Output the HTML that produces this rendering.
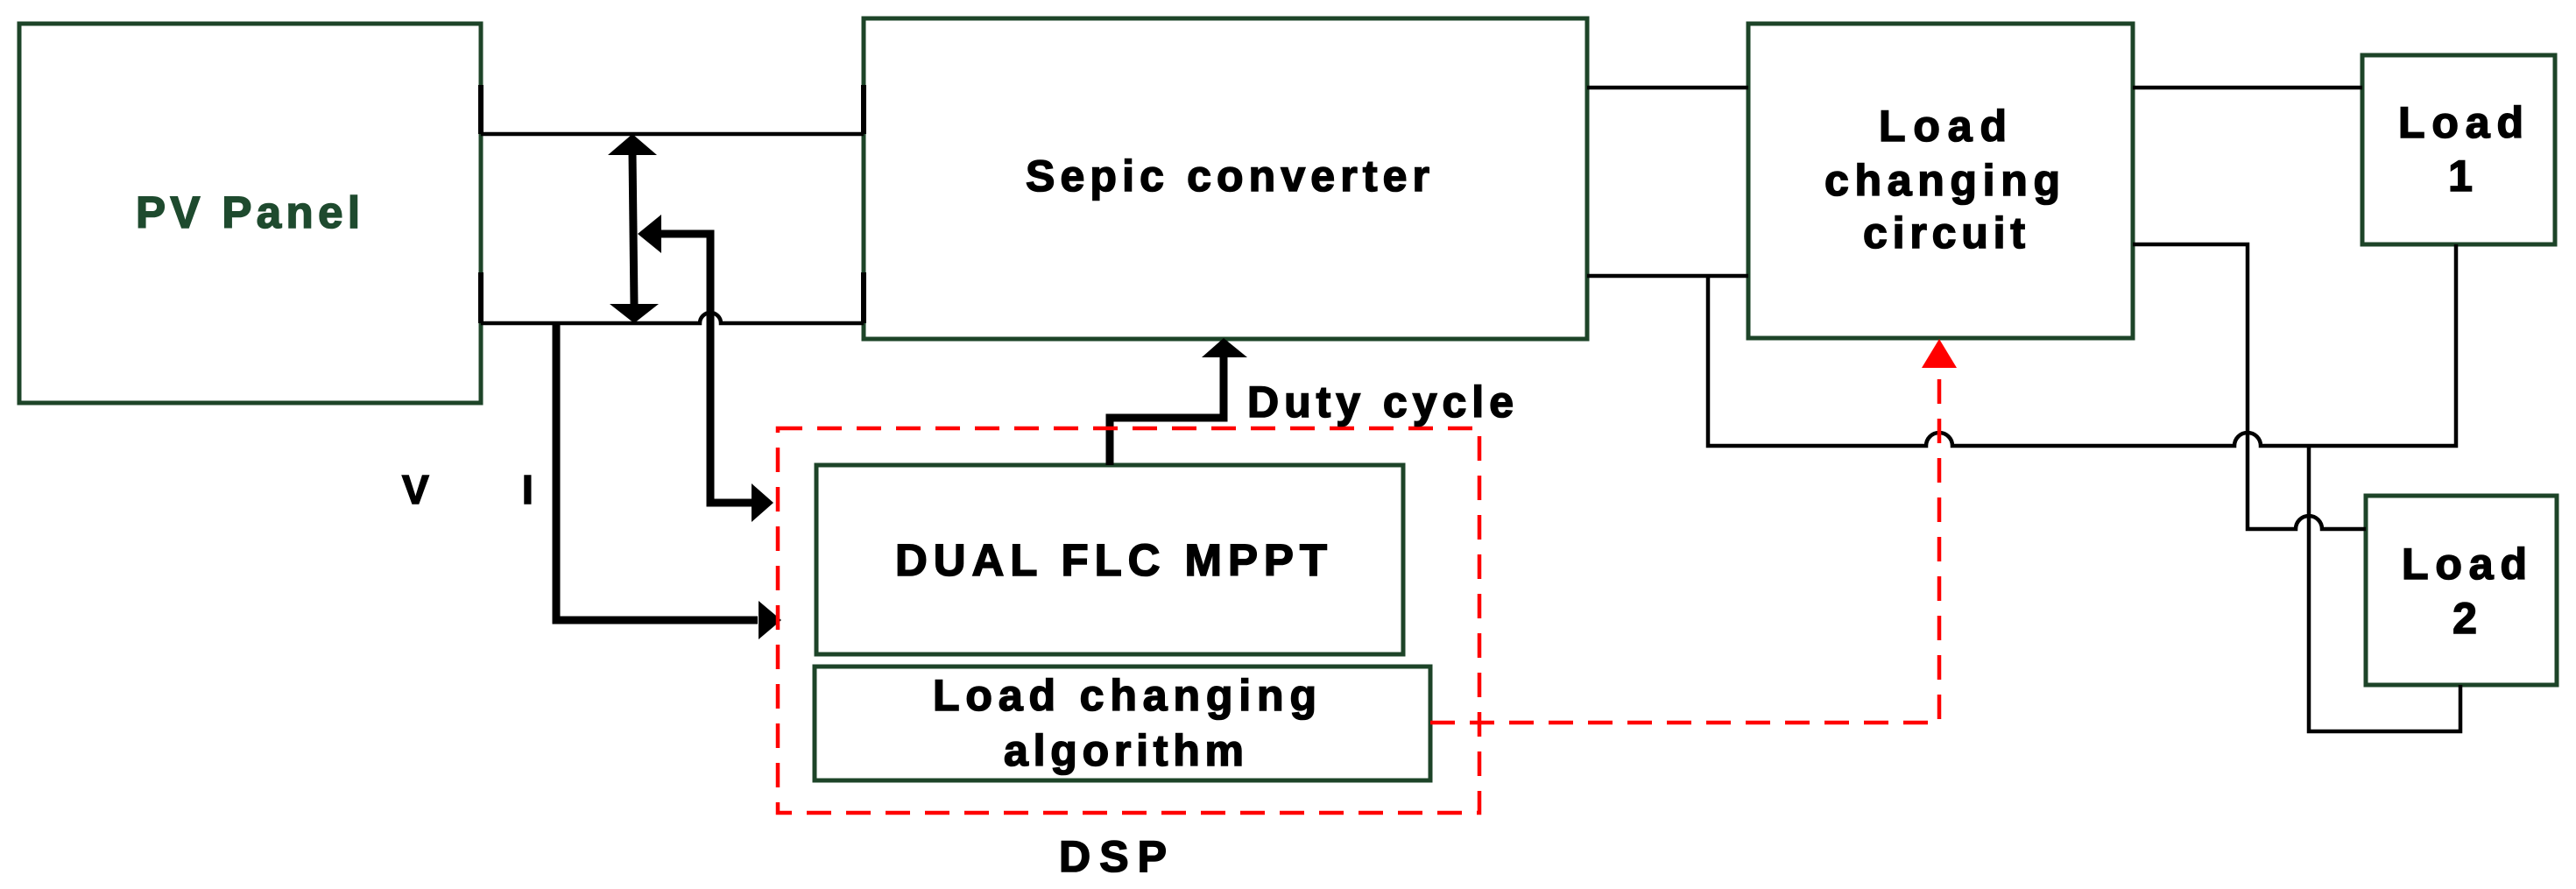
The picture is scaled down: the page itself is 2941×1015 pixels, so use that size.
<!DOCTYPE html>
<html><head><meta charset="utf-8"><style>
html,body{margin:0;padding:0;background:#fff;}
svg{display:block;}
text{font-family:"Liberation Sans",Arial,sans-serif;font-weight:bold;stroke-width:1.6;}
</style></head><body>
<svg width="2941" height="1015" viewBox="0 0 2941 1015" xmlns="http://www.w3.org/2000/svg">
<g fill="none" stroke="#1d4428" stroke-width="5">
<rect x="22" y="27" width="527" height="433"/>
<rect x="986" y="21" width="826" height="366"/>
<rect x="1996" y="27" width="439" height="359"/>
<rect x="2697" y="63" width="220" height="216"/>
<rect x="2701" y="566" width="218" height="216"/>
<rect x="932" y="531" width="670" height="216"/>
<rect x="930" y="761" width="703" height="130"/>
</g>
<g stroke="#000" stroke-width="6">
<line x1="549" y1="97" x2="549" y2="153"/>
<line x1="549" y1="311" x2="549" y2="369"/>
<line x1="986" y1="97" x2="986" y2="153"/>
<line x1="986" y1="311" x2="986" y2="369"/>
</g>
<g fill="none" stroke="#000" stroke-width="4.5" stroke-linejoin="miter">
<line x1="549" y1="153" x2="986" y2="153"/>
<path d="M549 369 H799 A12 12 0 0 1 823 369 H986"/>
<line x1="1812" y1="100" x2="1996" y2="100"/>
<line x1="1812" y1="315" x2="1996" y2="315"/>
<line x1="2435" y1="100" x2="2697" y2="100"/>
<path d="M1950 315 V509 H2199 A15 15 0 0 1 2229 509 H2551 A15 15 0 0 1 2581 509 H2804 V279"/>
<path d="M2435 279 H2566 V604 H2621 A15 15 0 0 1 2651 604 H2701"/>
<path d="M2636 509 V835 H2809 V782"/>
</g>
<g fill="none" stroke="#000" stroke-width="9">
<line x1="722" y1="175" x2="724" y2="348"/>
<path d="M750 267 H811 V574 H860"/>
<path d="M635 369 V708 H865"/>
<path d="M1267 531 V477 H1397 V405"/>
</g>
<g fill="#000">
<polygon points="722,153 694,177 750,177"/>
<polygon points="724,369 696,347 752,347"/>
<polygon points="728,267 755,245 755,289"/>
<polygon points="883,574 858,552 858,596"/>
<polygon points="892,708 866,686 866,730"/>
<polygon points="1397,386 1372,408 1424,408"/>
</g>
<g fill="none" stroke="#ff0000" stroke-width="4.5" stroke-dasharray="28,17">
<rect x="888" y="489" width="801" height="439"/>
<path d="M1633 825 H2214 V415"/>
</g>
<polygon points="2214,387 2194,420 2234,420" fill="#ff0000"/>
<text x="155" y="260" font-size="51" fill="#1e4a2e" stroke="#1e4a2e" textLength="256" lengthAdjust="spacing">PV Panel</text>
<g fill="#000" stroke="#000">
<text x="1171" y="218" font-size="50" textLength="461" lengthAdjust="spacing">Sepic converter</text>
<text x="1424" y="476" font-size="50" textLength="304" lengthAdjust="spacing">Duty cycle</text>
<text x="1022" y="657" font-size="51" textLength="493" lengthAdjust="spacing">DUAL FLC MPPT</text>
<text x="1065" y="811" font-size="50" textLength="438" lengthAdjust="spacing">Load changing</text>
<text x="1146" y="874" font-size="50" textLength="274" lengthAdjust="spacing">algorithm</text>
<text x="1209" y="995" font-size="50" textLength="123" lengthAdjust="spacing">DSP</text>
<text x="459" y="575" font-size="46">V</text>
<text x="596" y="575" font-size="46">I</text>
<text x="2145" y="161" font-size="50" textLength="146" lengthAdjust="spacing">Load</text>
<text x="2083" y="223" font-size="50" textLength="269" lengthAdjust="spacing">changing</text>
<text x="2127" y="283" font-size="50" textLength="185" lengthAdjust="spacing">circuit</text>
<text x="2738" y="157" font-size="50" textLength="143" lengthAdjust="spacing">Load</text>
<text x="2809" y="218" font-size="50" text-anchor="middle">1</text>
<text x="2742" y="661" font-size="50" textLength="143" lengthAdjust="spacing">Load</text>
<text x="2814" y="723" font-size="50" text-anchor="middle">2</text>
</g>
</svg>
</body></html>
